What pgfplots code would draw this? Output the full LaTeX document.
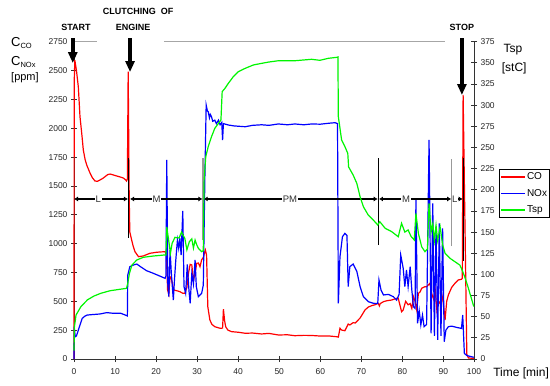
\documentclass[border=0pt]{standalone}
\usepackage{fontspec}
\setmainfont{Liberation Sans}
\usepackage{pgfplots}
\pgfplotsset{compat=1.18}
\usetikzlibrary{arrows.meta}
\definecolor{cored}{RGB}{255,0,0}
\definecolor{noxblue}{RGB}{0,0,255}
\definecolor{tspgreen}{RGB}{0,245,0}
\begin{document}
\begin{tikzpicture}
\pgfplotsset{
  common/.style={width=400pt,height=317.3pt,scale only axis,xmin=0,xmax=97.45,clip=false,
   tick align=center, major tick length=6pt, tick style={black!80,line width=0.8pt},
   axis line style={-,black!80,line width=0.9pt},
   tick label style={font=\fontsize{8.5}{10}\selectfont, text=black!85},
   /pgf/number format/assume math mode=true, /pgf/number format/1000 sep={},
  }
}
\begin{axis}[common, name=ax, ymin=0, ymax=2750, axis x line*=bottom, axis y line*=left,
  xtick={0,10,20,30,40,50,60,70,80,90,97.45},
  xticklabels={0,10,20,30,40,50,60,70,80,90,100},
  xticklabel style={yshift=-3pt},
  ytick={0,250,...,2750},
  legend style={at={(1.0625,0.5988)}, anchor=north west, draw=black,
    font=\fontsize{10}{12}\selectfont, inner xsep=1.5pt, inner ysep=2pt, row sep=5pt,
    nodes={inner sep=1pt, text height=7.5pt, text depth=2pt}},
  legend image code/.code={\draw[#1, line width=1.3pt] (0pt,0pt) -- (24pt,0pt);},
  legend cell align=left]
\coordinate (bl) at (rel axis cs:0,0);
\coordinate (tr) at (rel axis cs:1,1);
\addplot[cored, line width=1.2pt] coordinates {
(0,0) (0.05,2400) (0.2,2590) (0.6,2500) (1.05,2360) (1.46,2100) (1.9,1950) (2.27,1811) (2.7,1730) (3.1,1681) (3.9,1612) (4.5,1570) (5.1,1543) (5.7,1540) (6.3,1551) (7.0,1565) (7.55,1580) (8.2,1598) (8.8,1603) (9.6,1595) (10.4,1586) (11.2,1578) (12,1569) (12.5,1555) (12.8,1543) (13.0,1560) (13.2,2490) (13.45,1400) (13.6,1100) (14.05,1031) (14.4,980) (14.86,930) (15.7,887) (16.9,893) (17.7,905) (18.5,916) (20.1,925) (21.2,928) (22.2,930) (22.5,900) (22.8,600) (23.1,560) (23.4,713) (23.7,700) (24.3,598) (25.2,590) (25.8,583) (26.5,570) (27,569) (27.5,620) (27.9,745) (28.3,820) (28.7,815) (29.1,680) (29.5,745) (29.9,829) (30.3,832) (30.7,800) (31.1,860) (31.5,880) (32.0,945) (32.3,900) (32.6,453) (33.1,338) (33.6,300) (34.3,280) (35.6,266) (36.2,268) (36.4,431) (36.7,330) (36.95,280) (37.5,250) (38.4,237) (40,232) (41.7,223) (43.5,225) (45.7,217) (47.5,222) (49.8,208) (52,210) (53.8,202) (56,205) (57.9,204) (60,199) (62,200) (64,193) (64.4,190) (64.8,266) (65.2,251) (66,245) (66.8,303) (67.2,295) (68,315) (68.5,312) (69.7,355) (70.9,425) (71.7,450) (72.5,462) (73.3,470) (74.1,483) (74.4,460) (74.6,480) (75.4,497) (76.2,505) (77.4,511) (78.6,526) (79,526) (79.8,410) (80.2,425) (80.8,500) (81.4,470) (81.9,480) (82.3,439) (82.7,540) (83.1,500) (83.5,425) (83.9,569) (84.3,580) (84.7,613) (85.5,627) (85.9,627) (86.7,656) (87.2,560) (87.6,520) (88.0,600) (88.4,425) (88.8,500) (89.2,480) (89.6,560) (90.0,480) (90.4,338) (90.8,500) (91.2,555) (92.0,620) (92.8,656) (93.6,685) (94.4,691) (94.6,700) (94.8,2290) (95.7,40) (96.1,9) (97.4,5)
};
\addlegendentry{CO}
\addplot[noxblue, line width=1.2pt] coordinates {
(0,0) (0.05,280) (0.3,193) (0.6,200) (1.2,266) (2,352) (2.6,370) (3.2,381) (4.5,385) (6.3,390) (8,402) (9.6,396) (11.4,396) (12.5,381) (13.0,373) (13.1,728) (13.6,800) (14.5,815) (15.3,823) (16.2,800) (17.7,765) (19.3,743) (20.9,719) (22.2,699) (22.4,720) (22.6,1725) (22.85,656) (23.1,540) (23.4,945) (23.7,750) (24.2,511) (24.5,700) (24.8,858) (25.2,1031) (25.5,960) (25.8,1046) (26.1,900) (26.5,1283) (26.8,627) (27.2,569) (27.6,820) (28.0,598) (28.3,483) (28.7,740) (29.1,650) (29.5,858) (29.8,627) (30.3,540) (31.1,569) (31.5,640) (31.9,1609) (32.2,2201) (32.5,2150) (32.7,2143) (33.0,2090) (33.2,2120) (33.5,2100) (33.8,2060) (34.3,2070) (34.7,2040) (35.2,2070) (35.6,2030) (36.0,2050) (36.2,1898) (36.4,2040) (37.6,2028) (39,2020) (41.7,2013) (43.5,2025) (45.7,2030) (47.5,2025) (49.8,2037) (52,2030) (53.8,2037) (56,2030) (57.9,2037) (60,2035) (62,2043) (63.6,2048) (64.2,2040) (64.4,483) (64.8,887) (65.4,1060) (66,1089) (66.5,1070) (66.8,627) (67.2,800) (68,823) (68.9,760) (69.7,627) (70.5,540) (71.7,497) (72.9,483) (74,480) (74.3,685) (74.8,598) (75.4,555) (76.6,560) (77.8,540) (78.6,511) (79.2,560) (79.6,901) (80.2,786) (80.6,627) (81,771) (81.4,627) (81.9,800) (82.3,598) (82.7,453) (83.1,439) (83.3,1378) (83.7,309) (84.1,420) (84.5,295) (84.9,380) (85.3,280) (85.9,300) (86.5,1898) (87.0,223) (87.4,1349) (87.8,200) (88.2,1147) (88.6,165) (89.0,1176) (89.4,200) (89.8,1133) (90.2,150) (90.6,250) (91.2,280) (92,285) (93.2,274) (94.4,265) (94.7,381) (95.1,49) (95.7,30) (97.4,15)
};
\addlegendentry{NOx}
\addlegendimage{tspgreen, line width=1.2pt}
\addlegendentry{Tsp}
% top gray line
\draw[gray!70, line width=0.8pt] (axis cs:0,2750) -- (axis cs:5.6,2750);
\draw[gray!70, line width=0.8pt] (axis cs:21.9,2750) -- (axis cs:90.4,2750);
% vertical markers
\draw[black, line width=0.6pt] (axis cs:13.3,1050) -- (axis cs:13.3,1740);
\draw[gray!80, line width=2.5pt] (axis cs:31.4,1031) -- (axis cs:31.4,1742);
\draw[black, line width=0.6pt] (axis cs:74.05,988) -- (axis cs:74.05,1742);
\draw[gray!80, line width=1.2pt] (axis cs:92.0,979) -- (axis cs:92.0,1733);
\draw[black, line width=0.6pt] (axis cs:94.8,850) -- (axis cs:94.8,1740);
% phase arrows
\tikzset{ph/.style={{Latex[length=4pt,width=5pt]}-{Latex[length=4pt,width=5pt]}, line width=1.6pt, black}}
\draw[ph] (axis cs:0,1387) -- (axis cs:13.15,1387);
\draw[ph] (axis cs:13.65,1387) -- (axis cs:31.3,1387);
\draw[ph] (axis cs:31.6,1387) -- (axis cs:74.0,1387);
\draw[ph] (axis cs:74.3,1387) -- (axis cs:91.9,1387);
\draw[ph] (axis cs:92.1,1387) -- (axis cs:94.7,1387);
\tikzset{phl/.style={fill=white, inner sep=1pt, text=black!80, font=\fontsize{9.5}{10}\selectfont}}
\node[phl] at (axis cs:5.9,1387) {L};
\node[phl] at (axis cs:20.1,1387) {M};
\node[phl] at (axis cs:52.6,1387) {PM};
\node[phl] at (axis cs:80.9,1387) {M};
\node[phl, inner sep=0.3pt] at (axis cs:92.75,1387) {L};
% big arrows
\tikzset{bigarr/.style={-{Triangle[width=9pt,length=11pt]}, line width=3.5pt, black}}
\draw[bigarr] (axis cs:-0.3,2782) -- (axis cs:-0.3,2565);
\draw[bigarr] (axis cs:13.65,2782) -- (axis cs:13.65,2487);
\draw[bigarr] (axis cs:94.5,2782) -- (axis cs:94.5,2288);
% event labels
\tikzset{ev/.style={font=\bfseries\fontsize{9}{10}\selectfont, inner sep=0pt}}
\node[ev] at (axis cs:0.5,2877) {START};
\node[ev] at (axis cs:15.6,3016) {CLUTCHING \ OF};
\node[ev] at (axis cs:14.4,2877) {ENGINE};
\node[ev] at (axis cs:94.5,2877) {STOP};
% axis titles
\node[anchor=west, inner sep=0pt, font=\fontsize{13}{14}\selectfont] at (axis cs:-15.35,2741) {C\raisebox{-2pt}{\fontsize{7.5}{8}\selectfont CO}};
\node[anchor=west, inner sep=0pt, font=\fontsize{13}{14}\selectfont] at (axis cs:-15.35,2577) {C\raisebox{-2pt}{\fontsize{7.5}{8}\selectfont NOx}};
\node[anchor=west, inner sep=0pt, font=\fontsize{11}{12}\selectfont] at (axis cs:-15.35,2438) {[ppm]};
\node[anchor=west, inner sep=0pt, font=\fontsize{12}{13}\selectfont] at (axis cs:104.6,2678) {Tsp};
\node[anchor=west, inner sep=0pt, font=\fontsize{12}{13}\selectfont] at (axis cs:104.2,2519) {[stC]};
\node[anchor=west, inner sep=0pt, font=\fontsize{12}{13}\selectfont] at (axis cs:102.1,-125) {Time [min]};
\end{axis}
\begin{axis}[common, ymin=0, ymax=375, axis y line*=right, axis x line=none,
  ytick={0,25,...,375}]
\addplot[tspgreen, line width=1.2pt] coordinates {
(0,10) (0.1,38) (0.5,52) (1.7,62) (3.3,70) (4.9,74.5) (6.5,77.6) (8.8,80.7) (11.2,82.4) (12.8,83.5) (13.1,89.5) (13.5,101) (14.1,111) (15.3,117) (16.9,120.2) (19.3,121.7) (22.2,123) (22.4,123) (22.6,156) (23.0,142.6) (23.5,125) (23.9,136.7) (24.6,143.8) (25.6,143) (26.2,150) (26.6,146) (27,142.6) (27.5,129) (28.1,138.6) (28.7,142) (29.1,131) (29.5,140.6) (29.9,135) (30.3,130.8) (31.1,126.8) (31.5,128) (31.7,211.5) (32.1,239) (32.7,251) (33.5,262.7) (34.3,272.6) (35.2,278.5) (35.8,282.5) (36.1,316) (36.8,320) (37.6,325.8) (38.8,333.6) (40,339.5) (41.7,343.5) (43.7,347.5) (45.7,349.4) (47.5,351) (49.8,352.5) (53.8,352.5) (57.9,354.2) (59.9,353) (62,355.4) (64,356.5) (64.3,357) (64.4,286.3) (65.2,258.8) (66,251) (66.7,243) (66.9,227) (68,217.5) (68.9,207.6) (69.7,191.8) (70.5,180) (71.7,170) (72.9,164.3) (74,158.4) (74.5,162.3) (75.8,154.5) (77.4,150.5) (79,144.5) (79.8,160.4) (80.6,150) (81.4,152.5) (82.1,145) (82.9,140.6) (83.3,172) (83.9,148.5) (84.7,132.7) (85.5,126.8) (86.1,130) (86.5,184) (87.0,150) (87.4,160) (87.8,140) (88.2,158) (88.6,140) (89.2,156) (89.8,135) (90.4,125) (91.6,119) (92.8,115) (94,111) (94.4,107) (95.2,97) (96,85) (97.4,62)
};
\end{axis}
\pgfresetboundingbox
\path[use as bounding box] ([shift={(-74pt,-26pt)}]bl) rectangle ([shift={(76pt,41.7pt)}]tr);
\end{tikzpicture}
\end{document}
